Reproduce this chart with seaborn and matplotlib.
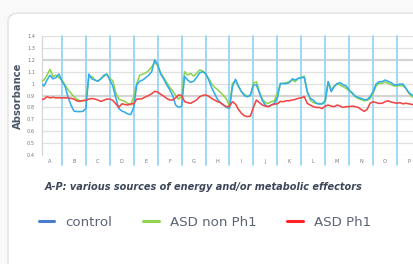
import numpy as np
import pandas as pd
import matplotlib
matplotlib.use("Agg")
import matplotlib.pyplot as plt
from matplotlib.lines import Line2D
from matplotlib.patches import FancyBboxPatch
import seaborn as sns

categories = list("ABCDEFGHIJKLMNOP")
points_per_category = 8

control = [
    1.00, 1.00, 0.98, 1.03, 1.07, 1.04, 1.05, 1.08,      # A
    1.02, 0.98, 0.89, 0.82, 0.77, 0.765, 0.765, 0.767,   # B
    0.79, 1.08, 1.04, 1.03, 1.02, 1.04, 1.07, 1.08,      # C
    1.03, 0.98, 0.88, 0.79, 0.77, 0.76, 0.745, 0.74,     # D
    0.80, 0.99, 1.02, 1.03, 1.05, 1.07, 1.10, 1.20,      # E
    1.16, 1.08, 1.04, 0.99, 0.95, 0.90, 0.82, 0.80,      # F
    0.81, 1.06, 1.03, 1.01, 1.02, 1.05, 1.09, 1.10,      # G
    1.086, 1.036, 0.968, 0.918, 0.867, 0.84, 0.82, 0.80, # H
    0.792, 0.974, 1.036, 0.98, 0.932, 0.898, 0.89, 0.905,# I
    0.988, 0.988, 0.923, 0.856, 0.82, 0.806, 0.82, 0.834,# J
    0.88, 1.00, 1.00, 1.00, 1.008, 1.04, 1.03, 1.044,    # K
    1.05, 1.052, 0.932, 0.876, 0.862, 0.834, 0.828, 0.83,# L
    0.856, 1.016, 0.932, 0.974, 1.00, 1.008, 0.99, 0.98, # M
    0.946, 0.923, 0.895, 0.884, 0.876, 0.865, 0.865, 0.89,# N
    0.932, 0.996, 1.016, 1.016, 1.03, 1.019, 1.008, 0.99,# O
    0.988, 0.996, 0.996, 0.96, 0.923, 0.904, 0.90, 0.90, # P
]

asd_non_ph1 = [
    1.00, 1.016, 1.03, 1.07, 1.12, 1.06, 1.07, 1.05,     # A
    1.03, 0.99, 0.95, 0.92, 0.89, 0.87, 0.855, 0.855,    # B
    0.86, 1.05, 1.06, 1.03, 1.02, 1.04, 1.06, 1.08,      # C
    1.044, 1.024, 0.92, 0.87, 0.86, 0.85, 0.834, 0.82,   # D
    0.89, 1.00, 1.07, 1.08, 1.09, 1.11, 1.14, 1.18,      # E
    1.15, 1.09, 1.05, 1.01, 0.97, 0.94, 0.90, 0.87,      # F
    0.89, 1.10, 1.072, 1.086, 1.063, 1.086, 1.114, 1.108,# G
    1.08, 1.044, 1.00, 0.97, 0.95, 0.925, 0.90, 0.87,    # H
    0.81, 1.00, 1.024, 0.974, 0.932, 0.91, 0.89, 0.898,  # I
    1.002, 1.016, 0.932, 0.867, 0.84, 0.834, 0.848, 0.856,# J
    0.92, 1.00, 1.002, 1.008, 1.016, 1.03, 1.016, 1.044, # K
    1.052, 1.063, 0.932, 0.862, 0.84, 0.834, 0.834, 0.83,# L
    0.848, 1.016, 0.946, 0.98, 1.00, 0.988, 0.974, 0.96, # M
    0.94, 0.918, 0.89, 0.876, 0.865, 0.856, 0.86, 0.873, # N
    0.918, 0.98, 1.002, 1.002, 1.013, 1.002, 0.99, 0.98, # O
    0.98, 0.985, 0.98, 0.96, 0.918, 0.89, 0.88, 0.88,    # P
]

asd_ph1 = [
    0.86, 0.865, 0.87, 0.89, 0.88, 0.885, 0.88, 0.88,    # A
    0.88, 0.88, 0.88, 0.876, 0.87, 0.855, 0.85, 0.858,   # B
    0.86, 0.87, 0.875, 0.87, 0.862, 0.85, 0.86, 0.87,    # C
    0.87, 0.86, 0.83, 0.80, 0.83, 0.825, 0.82, 0.83,     # D
    0.83, 0.87, 0.87, 0.875, 0.89, 0.90, 0.915, 0.935,   # E
    0.93, 0.91, 0.895, 0.875, 0.862, 0.862, 0.88, 0.905, # F
    0.90, 0.848, 0.84, 0.834, 0.848, 0.862, 0.89, 0.90,  # G
    0.904, 0.895, 0.876, 0.862, 0.848, 0.84, 0.82, 0.806,# H
    0.81, 0.848, 0.828, 0.783, 0.75, 0.73, 0.722, 0.727, # I
    0.80, 0.862, 0.84, 0.82, 0.811, 0.806, 0.82, 0.828,  # J
    0.83, 0.85, 0.848, 0.856, 0.856, 0.862, 0.867, 0.876,# K
    0.881, 0.89, 0.834, 0.82, 0.806, 0.80, 0.80, 0.79,   # L
    0.811, 0.82, 0.811, 0.806, 0.82, 0.811, 0.80, 0.806, # M
    0.806, 0.811, 0.806, 0.80, 0.783, 0.767, 0.783, 0.834,# N
    0.848, 0.84, 0.834, 0.834, 0.848, 0.856, 0.845, 0.84,# O
    0.835, 0.84, 0.83, 0.835, 0.83, 0.825, 0.82, 0.82,   # P
]

y_ticks = [0.4, 0.5, 0.6, 0.7, 0.8, 0.9, 1.0, 1.1, 1.2, 1.3, 1.4]
y_tick_labels = ["0.4", "0.5", "0.6", "0.7", "0.8", "0.9", "1", "1.1", "1.2", "1.3", "1.4"]
series_names = ["control", "ASD non Ph1", "ASD Ph1"]

n = len(control)
x = np.arange(n) / points_per_category
df = pd.DataFrame({
    "x": np.concatenate([x, x, x]),
    "value": np.concatenate([control, asd_non_ph1, asd_ph1]),
    "series": ["control"] * n + ["ASD non Ph1"] * n + ["ASD Ph1"] * n,
})

sns.set_theme(style="white")
plt.rcParams["font.family"] = ["DejaVu Sans"]

W, H = 414, 264
fig = plt.figure(figsize=(W / 100, H / 100), dpi=100)
fig.patch.set_facecolor("#f9f9f9")

card = FancyBboxPatch((8 / W, -0.2), 1.2, 1 - 13 / H + 0.2,
                      boxstyle="round,pad=0,rounding_size=0.03",
                      transform=fig.transFigure, facecolor="white",
                      edgecolor="#e2e2e2", linewidth=1.0, zorder=-10)
fig.patches.append(card)

left, right_px, top, bottom = 42, 414, 36, 155
ax = fig.add_axes([left / W, 1 - bottom / H, (right_px - left) / W, (bottom - top) / H])
ax.set_facecolor("none")
ax.set_zorder(1)

palette = {"control": "#33ade8", "ASD non Ph1": "#8fd34f", "ASD Ph1": "#f04646"}
sns.lineplot(data=df, x="x", y="value", hue="series",
             hue_order=["ASD non Ph1", "control", "ASD Ph1"],
             palette=palette, linewidth=1.15, legend=False, ax=ax, zorder=3)

ax.set_xlim(0.167, 15.71)
ax.set_ylim(0.4, 1.4)

ax.set_yticks(y_ticks)
ax.set_yticklabels(y_tick_labels)
ax.set_xticks(np.arange(len(categories)) + 0.5)
ax.set_xticklabels(categories)
ax.tick_params(axis="both", length=0, labelsize=3.6, labelcolor="#777777")
ax.tick_params(axis="y", pad=5)
ax.tick_params(axis="x", pad=3)

for yv in y_ticks:
    thick = yv in (0.9, 1.2)
    ax.axhline(yv, color="#d4d4d4" if thick else "#e0e0e0",
               lw=1.6 if thick else 0.9, zorder=1)

for j in range(1, len(categories)):
    ax.axvline(j, ymin=-0.085, ymax=1, color="#96d6f2", lw=1.3,
               clip_on=False, zorder=2)

for s in ["top", "right", "bottom"]:
    ax.spines[s].set_visible(False)
ax.spines["left"].set_color("#d6d6d6")
ax.spines["left"].set_linewidth(0.9)

ax.set_xlabel("")
ax.set_ylabel("Absorbance", fontsize=7.2, fontweight="bold", color="#4a5568", labelpad=3)

fig.text(45 / W, 1 - 187 / H,
         "A-P: various sources of energy and/or metabolic effectors",
         fontsize=7.0, fontweight="bold", fontstyle="italic", color="#3c4658",
         ha="left", va="center")

handles = [Line2D([], [], color="#4a7bd0", lw=2.2),
           Line2D([], [], color="#8fd34f", lw=2.2),
           Line2D([], [], color="#ff2424", lw=2.2)]
fig.legend(handles, series_names, loc="center left",
           bbox_to_anchor=(39 / W, 1 - 222 / H), ncol=3, frameon=False,
           fontsize=9.6, handlelength=1.15, handletextpad=0.85,
           columnspacing=2.3, labelcolor="#5b6475", borderpad=0, borderaxespad=0)

fig.savefig("out.png", dpi=100, facecolor=fig.get_facecolor())
